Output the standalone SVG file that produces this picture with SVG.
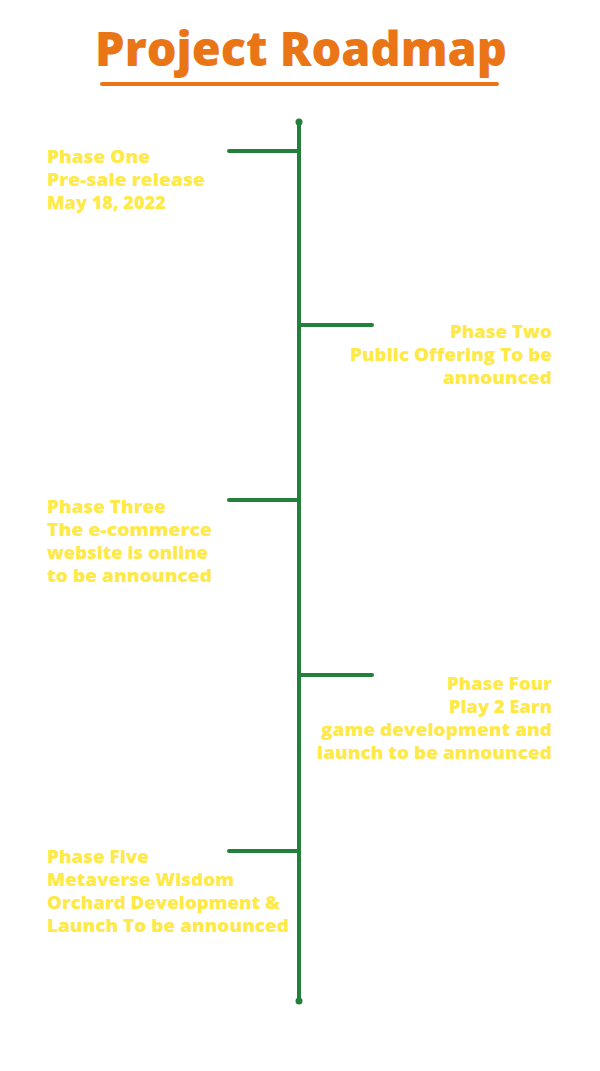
<svg xmlns="http://www.w3.org/2000/svg" width="600" height="1071" viewBox="0 0 600 1071">
<style>
.t{font-family:"Open Sans","Liberation Sans",sans-serif;font-weight:800;font-size:17.5px;fill:#FFE946}
.r{text-anchor:end}
.ln{stroke:#23803B;stroke-width:4;stroke-linecap:round;fill:none}
</style>
<rect width="600" height="1071" fill="#ffffff"/>
<g id="title">
<text x="95" y="66" font-family="'Open Sans','Liberation Sans',sans-serif" font-weight="800" font-size="47" fill="#EA7517" textLength="412" lengthAdjust="spacingAndGlyphs">Project Roadmap</text>
<line x1="102" y1="84" x2="497" y2="84" stroke="#EA7517" stroke-width="4" stroke-linecap="round"/>
</g>
<g id="connectors">
<line class="ln" x1="299" y1="122" x2="299" y2="1001"/>
<circle cx="299" cy="122" r="3.5" fill="#23803B"/>
<circle cx="299" cy="1001" r="3.5" fill="#23803B"/>
<line class="ln" x1="229" y1="151" x2="299" y2="151"/>
<line class="ln" x1="299" y1="325" x2="372" y2="325"/>
<line class="ln" x1="229" y1="500" x2="299" y2="500"/>
<line class="ln" x1="299" y1="675" x2="372" y2="675"/>
<line class="ln" x1="229" y1="851" x2="299" y2="851"/>
</g>
<g id="phase1">
<text class="t" x="47" y="163" textLength="103" lengthAdjust="spacingAndGlyphs">Phase One</text>
<text class="t" x="47" y="186" textLength="158" lengthAdjust="spacingAndGlyphs">Pre-sale release</text>
<text class="t" x="47" y="209" textLength="119" lengthAdjust="spacingAndGlyphs">May 18, 2022</text>
</g>
<g id="phase2">
<text class="t r" x="552" y="338" textLength="102" lengthAdjust="spacingAndGlyphs">Phase Two</text>
<text class="t r" x="552" y="361" textLength="202" lengthAdjust="spacingAndGlyphs">Public Offering To be</text>
<text class="t r" x="552" y="384" textLength="109" lengthAdjust="spacingAndGlyphs">announced</text>
</g>
<g id="phase3">
<text class="t" x="47" y="513" textLength="119" lengthAdjust="spacingAndGlyphs">Phase Three</text>
<text class="t" x="47" y="536" textLength="165" lengthAdjust="spacingAndGlyphs">The e-commerce</text>
<text class="t" x="47" y="559" textLength="161" lengthAdjust="spacingAndGlyphs">website is online</text>
<text class="t" x="47" y="582" textLength="165" lengthAdjust="spacingAndGlyphs">to be announced</text>
</g>
<g id="phase4">
<text class="t r" x="552" y="690" textLength="105" lengthAdjust="spacingAndGlyphs">Phase Four</text>
<text class="t r" x="552" y="713" textLength="103" lengthAdjust="spacingAndGlyphs">Play 2 Earn</text>
<text class="t r" x="552" y="736" textLength="231" lengthAdjust="spacingAndGlyphs">game development and</text>
<text class="t r" x="552" y="759" textLength="235" lengthAdjust="spacingAndGlyphs">launch to be announced</text>
</g>
<g id="phase5">
<text class="t" x="47" y="863" textLength="102" lengthAdjust="spacingAndGlyphs">Phase Five</text>
<text class="t" x="47" y="886" textLength="187" lengthAdjust="spacingAndGlyphs">Metaverse Wisdom</text>
<text class="t" x="47" y="909" textLength="233" lengthAdjust="spacingAndGlyphs">Orchard Development &amp;</text>
<text class="t" x="47" y="932" textLength="242" lengthAdjust="spacingAndGlyphs">Launch To be announced</text>
</g>
</svg>
